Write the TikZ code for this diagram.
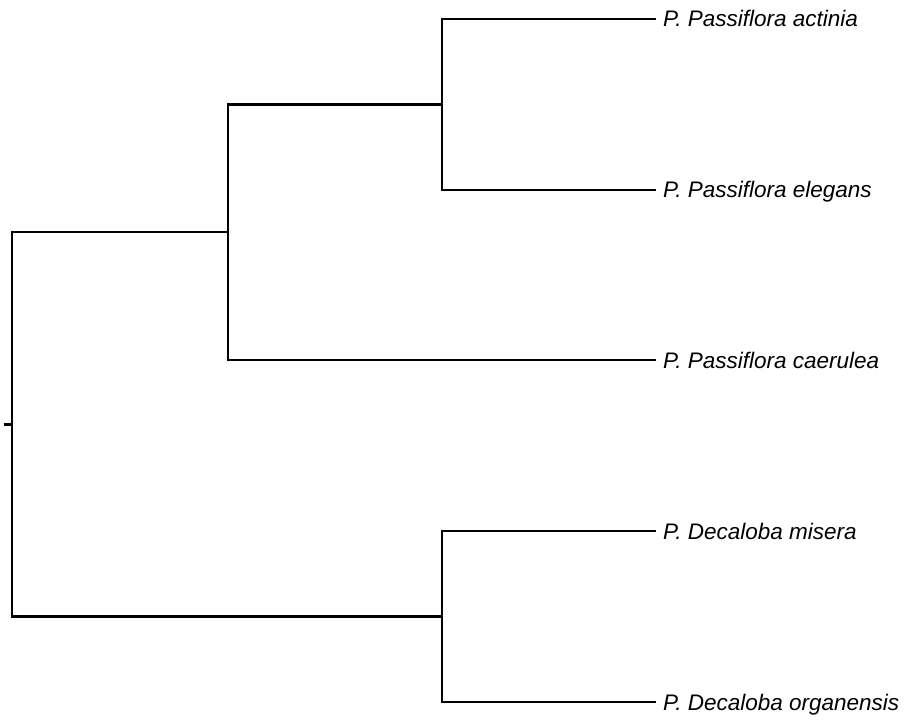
\documentclass[tikz,border=0pt]{standalone}
\usepackage{fontspec}
\setmainfont{Liberation Sans}
\begin{document}
\begin{tikzpicture}[x=1pt,y=-1pt,
  branch/.style={line width=2.6pt,line join=miter,line cap=rect,black},
  leaf/.style={anchor=base west,inner sep=0pt,yshift=-8pt,font=\fontsize{22.5}{27}\selectfont\itshape}]
\useasboundingbox (0,0) rectangle (905,722);
% internal nodes
\coordinate (s) at (5,424.5);
\coordinate (r) at (12,424.5);
\coordinate (a) at (228,232);
\coordinate (b) at (442,104.5);
\coordinate (c) at (442,616.5);
% leaf tips
\coordinate (t1) at (655,19);
\coordinate (t2) at (655,190);
\coordinate (t3) at (655,360);
\coordinate (t4) at (655,531);
\coordinate (t5) at (655,702);
% labels
\node[leaf] (l1) at (663,19) {P. Passiflora actinia};
\node[leaf] (l2) at (663,190) {P. Passiflora elegans};
\node[leaf] (l3) at (663,360) {P. Passiflora caerulea};
\node[leaf] (l4) at (663,531) {P. Decaloba misera};
\node[leaf] (l5) at (663,702) {P. Decaloba organensis};
% branches
\draw[branch] (s) -- (r);
\draw[branch] (r) |- (a);
\draw[branch] (r) |- (c);
\draw[branch] (a) |- (b);
\draw[branch] (a) |- (t3);
\draw[branch] (b) |- (t1);
\draw[branch] (b) |- (t2);
\draw[branch] (c) |- (t4);
\draw[branch] (c) |- (t5);
\end{tikzpicture}
\end{document}
